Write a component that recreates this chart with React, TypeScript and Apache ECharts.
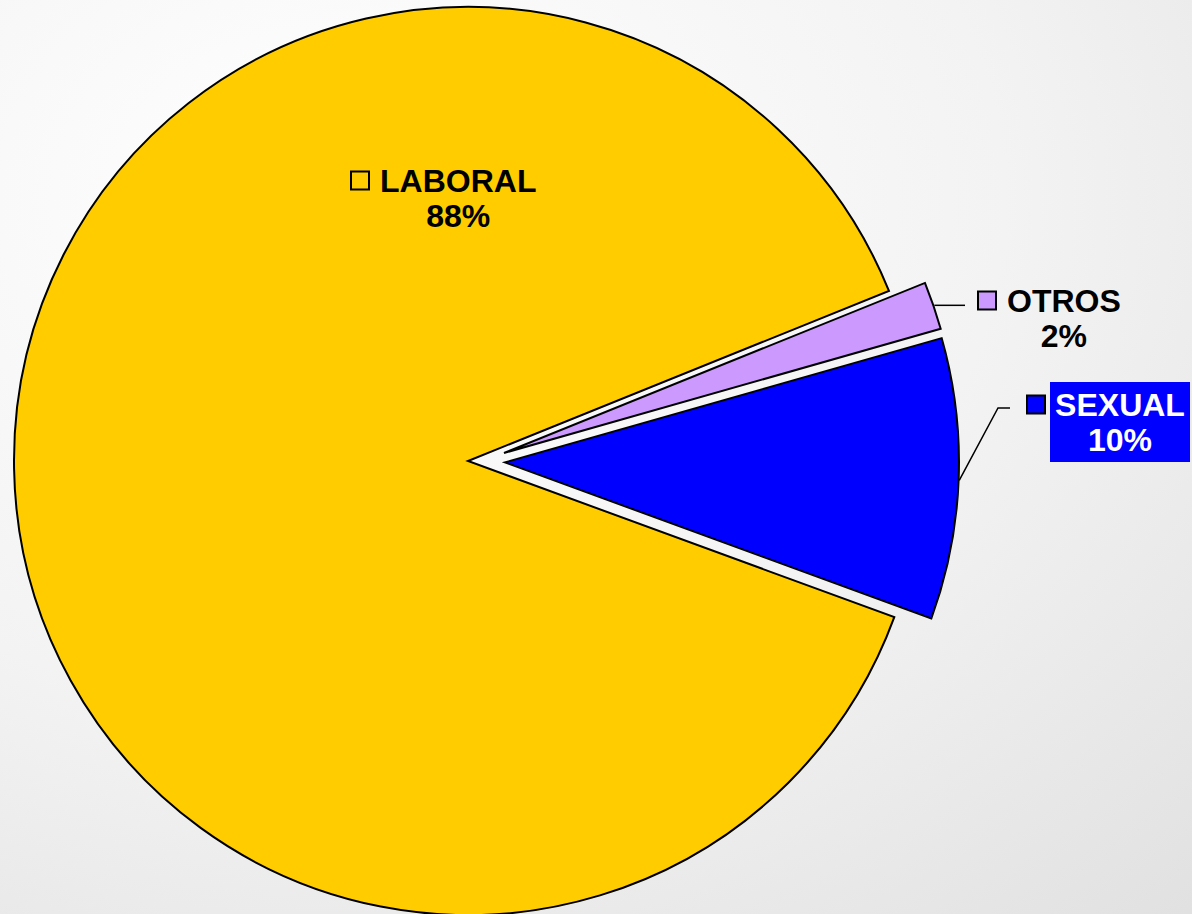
import React, { useEffect, useRef } from 'react';
import * as echarts from 'echarts';

const categories = ['OTROS', 'SEXUAL', 'LABORAL'];
const values = [1.7, 10.0, 88.3];
const sliceColors = ['#CC99FF', '#0000FF', '#FFCC00'];

// label anchor (left edge of block, vertical centre of block)
const labelAnchors = [
  { x: 979, y: 318 },
  { x: 1028, y: 422 },
  { x: 352, y: 198 },
];

const CENTER = [468, 461];
const RADIUS = 454;
const SEXUAL_OFFSET = 37;
const OTROS_SHIFT = [36, -8];

export default function App() {
  const ref = useRef<HTMLDivElement>(null);
  useEffect(() => {
    document.body.style.margin = '0';
    const chart = echarts.init(ref.current!, null, { renderer: 'svg' });
    const font = "'Liberation Sans', Arial, sans-serif";
    const LH = 35;
    const total = values.reduce((s, v) => s + v, 0);

    const border = { borderColor: '#000', borderWidth: 2, borderJoin: 'miter' };
    const hidden = { color: 'rgba(0,0,0,0)', borderWidth: 0 };

    const baseSeries = {
      type: 'pie',
      radius: RADIUS,
      startAngle: 22,
      clockwise: true,
      avoidLabelOverlap: false,
      emphasis: { disabled: true },
      label: { show: false },
      labelLine: { show: false },
      silent: true,
    };

    const option: any = {
      animation: false,
      backgroundColor: new echarts.graphic.RadialGradient(0.28, 0.22, 1.25, [
        { offset: 0, color: '#ffffff' },
        { offset: 0.45, color: '#f3f3f3' },
        { offset: 1, color: '#dadada' },
      ]),
      series: [
        {
          ...baseSeries,
          center: CENTER,
          selectedMode: 'multiple',
          selectedOffset: SEXUAL_OFFSET,
          data: categories.map((name, i) => {
            const visible = name !== 'OTROS';
            const st = visible ? { color: sliceColors[i], ...border } : hidden;
            return {
              name,
              value: values[i],
              selected: name === 'SEXUAL',
              itemStyle: st,
              select: { itemStyle: st },
            };
          }),
        },
        {
          ...baseSeries,
          center: [CENTER[0] + OTROS_SHIFT[0], CENTER[1] + OTROS_SHIFT[1]],
          data: categories.map((name, i) => ({
            name,
            value: values[i],
            itemStyle: name === 'OTROS' ? { color: sliceColors[i], ...border } : hidden,
          })),
        },
      ],
    };
    chart.setOption(option);

    const graphics: any[] = [];
    // labels
    categories.forEach((name, i) => {
      const boxed = name === 'SEXUAL';
      const sp = boxed ? 6 : 12;
      const pct = Math.round((values[i] / total) * 100);
      const textStyle: any = {
        fontFamily: font,
        fontWeight: 'bold',
        fontSize: 32,
        fill: boxed ? '#ffffff' : '#000000',
        color: boxed ? '#ffffff' : '#000000',
        lineHeight: LH,
        align: 'center',
      };
      if (boxed) Object.assign(textStyle, { backgroundColor: '#0000FF', width: 140, height: 45 });
      const a = labelAnchors[i];
      graphics.push({
        type: 'text',
        x: a.x,
        y: a.y,
        z: 20,
        silent: true,
        style: {
          text: `{sq|}{sp|}{name|${name}}\n{sp2|}{pct|${pct}%}`,
          align: 'left',
          verticalAlign: 'middle',
          fontFamily: font,
          fontWeight: 'bold',
          fontSize: 32,
          lineHeight: LH,
          rich: {
            sq: { width: 16, height: 16, backgroundColor: sliceColors[i], borderColor: '#000', borderWidth: 2, lineHeight: LH, align: 'left' },
            sp: { width: sp, lineHeight: LH, align: 'left' },
            sp2: { width: 16 + sp, lineHeight: LH, align: 'left' },
            name: textStyle,
            pct: textStyle,
          },
        },
      });
    });

    // leader lines from the library's own sector layout
    try {
      const model = (chart as any).getModel();
      categories.forEach((name, i) => {
        if (name === 'LABORAL') return;
        const a = labelAnchors[i];
        let pts: number[][];
        if (name === 'OTROS') {
          const l = model.getSeriesByIndex(1).getData().getItemLayout(i);
          const mid = (l.startAngle + l.endAngle) / 2;
          const sx = l.cx + (l.r + 1) * Math.cos(mid);
          const sy = l.cy + (l.r + 1) * Math.sin(mid);
          pts = [[sx, sy], [a.x - 14, sy]];
        } else {
          const l = model.getSeriesByIndex(0).getData().getItemLayout(i);
          const mid = (l.startAngle + l.endAngle) / 2;
          const cx = l.cx + SEXUAL_OFFSET * Math.cos(mid);
          const cy = l.cy + SEXUAL_OFFSET * Math.sin(mid);
          const ang = mid + 0.02;
          const sx = cx + (l.r + 1) * Math.cos(ang);
          const sy = cy + (l.r + 1) * Math.sin(ang) - 8;
          const ly = a.y - LH / 2 + 3.5;
          pts = [[sx, sy], [a.x - 30, ly], [a.x - 18, ly]];
        }
        graphics.push({
          type: 'polyline',
          silent: true,
          z: 10,
          shape: { points: pts },
          style: { stroke: '#000', lineWidth: 1.5, fill: null },
        });
      });
    } catch (e) {
      // ignore
    }
    chart.setOption({ graphic: graphics });
    return () => chart.dispose();
  }, []);
  return <div ref={ref} style={{ width: 1192, height: 914 }} />;
}
